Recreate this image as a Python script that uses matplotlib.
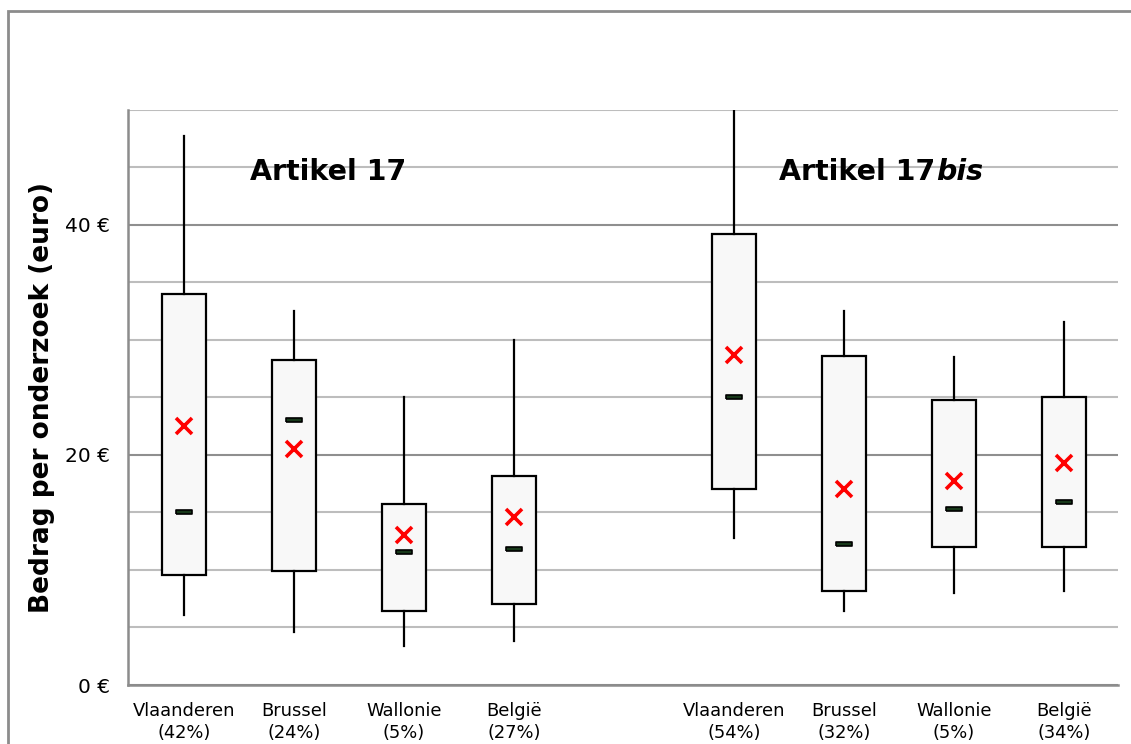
import numpy as np
import matplotlib
matplotlib.use("Agg")
import matplotlib.pyplot as plt
from matplotlib.patches import Rectangle

# regio's en aandeel per artikel
regios = ["Vlaanderen", "Brussel", "Wallonie", "België"]
aandeel_17 = ["42%", "24%", "5%", "27%"]
aandeel_17bis = ["54%", "32%", "5%", "34%"]

# bedrag per onderzoek (euro): Artikel 17
min_17 = [6.1, 4.6, 3.4, 3.8]
q1_17 = [9.6, 9.9, 6.4, 7.0]
med_17 = [15.0, 23.0, 11.6, 11.8]
gem_17 = [22.5, 20.5, 13.0, 14.6]
q3_17 = [34.0, 28.3, 15.7, 18.2]
max_17 = [47.7, 32.5, 25.0, 30.0]

# bedrag per onderzoek (euro): Artikel 17bis
min_17bis = [12.8, 6.4, 8.0, 8.2]
q1_17bis = [17.0, 8.2, 12.0, 12.0]
med_17bis = [25.0, 12.3, 15.3, 15.9]
gem_17bis = [28.7, 17.0, 17.7, 19.3]
q3_17bis = [39.2, 28.6, 24.8, 25.0]
max_17bis = [50.0, 32.5, 28.5, 31.6]

#%% stats opbouwen voor bxp
def maak_stats(mn, q1, med, gem, q3, mx, aandeel):
    out = []
    for i in range(len(mn)):
        out.append({"whislo": mn[i], "q1": q1[i], "med": med[i], "mean": gem[i],
                    "q3": q3[i], "whishi": mx[i], "fliers": [],
                    "label": f"{regios[i]}\n({aandeel[i]})"})
    return out

stats = maak_stats(min_17, q1_17, med_17, gem_17, q3_17, max_17, aandeel_17) + \
        maak_stats(min_17bis, q1_17bis, med_17bis, gem_17bis, q3_17bis, max_17bis, aandeel_17bis)
pos = [0, 1, 2, 3, 5, 6, 7, 8]

fig = plt.figure(figsize=(11.31, 7.44), dpi=100)
ax = fig.add_axes([0.1132, 0.0793, 0.8753, 0.7729])

# lijnen
ax.set_ylim(0, 50)
ax.set_xlim(-0.51, 8.49)
ax.set_yticks([0, 20, 40])
ax.set_yticklabels(["0 €", "20 €", "40 €"])
ax.set_yticks(np.arange(5, 51, 5), minor=True)
ax.grid(which="minor", axis="y", color="#bdbdbd", lw=1.5)
ax.grid(which="major", axis="y", color="#8f8f8f", lw=1.5)
ax.set_axisbelow(True)
ax.tick_params(axis="y", which="both", length=0, labelsize=14.5, pad=13)
ax.tick_params(axis="x", length=0, labelsize=12.9, pad=12)
for s in ["top", "right"]:
    ax.spines[s].set_visible(False)
for s in ["left", "bottom"]:
    ax.spines[s].set_color("#8c8c8c")
    ax.spines[s].set_linewidth(1.8)

ax.bxp(stats, positions=pos, widths=0.4, showcaps=False, showfliers=False,
       showmeans=True, patch_artist=True,
       boxprops=dict(facecolor="#f8f8f8", edgecolor="black", lw=1.6),
       whiskerprops=dict(color="black", lw=1.6),
       medianprops=dict(lw=0),
       meanprops=dict(marker="x", markeredgecolor="red", markersize=12, markeredgewidth=2.6))
for lbl in ax.get_xticklabels():
    lbl.set_linespacing(1.3)

# mediaan als kort streepje
streep = [(-1, -0.3), (1, -0.3), (1, 0.3), (-1, 0.3), (-1, -0.3)]
ax.plot(pos, med_17 + med_17bis, ls="none", marker=streep, markersize=11.5,
        markerfacecolor="#17381a", markeredgecolor="black", markeredgewidth=1.2, zorder=4)

ax.set_ylabel("Bedrag per onderzoek (euro)", fontsize=19, fontweight="bold", labelpad=7)

ax.text(1.31, 44.6, "Artikel 17", fontsize=20.5, fontweight="bold", ha="center", va="center")
t = ax.text(6.83, 44.6, "Artikel 17", fontsize=20.5, fontweight="bold", ha="right", va="center")
ax.annotate("bis", xy=(1, 0), xycoords=t, xytext=(0.5, 0), textcoords="offset points",
            va="bottom", ha="left", fontsize=20.5, fontweight="bold", fontstyle="italic")

# kader rond de figuur
fig.patches.append(Rectangle((0.0071, -0.1), 1.2, 1.085, transform=fig.transFigure,
                             fill=False, edgecolor="#8c8c8c", lw=2))

fig.savefig("out.png", dpi=100)
